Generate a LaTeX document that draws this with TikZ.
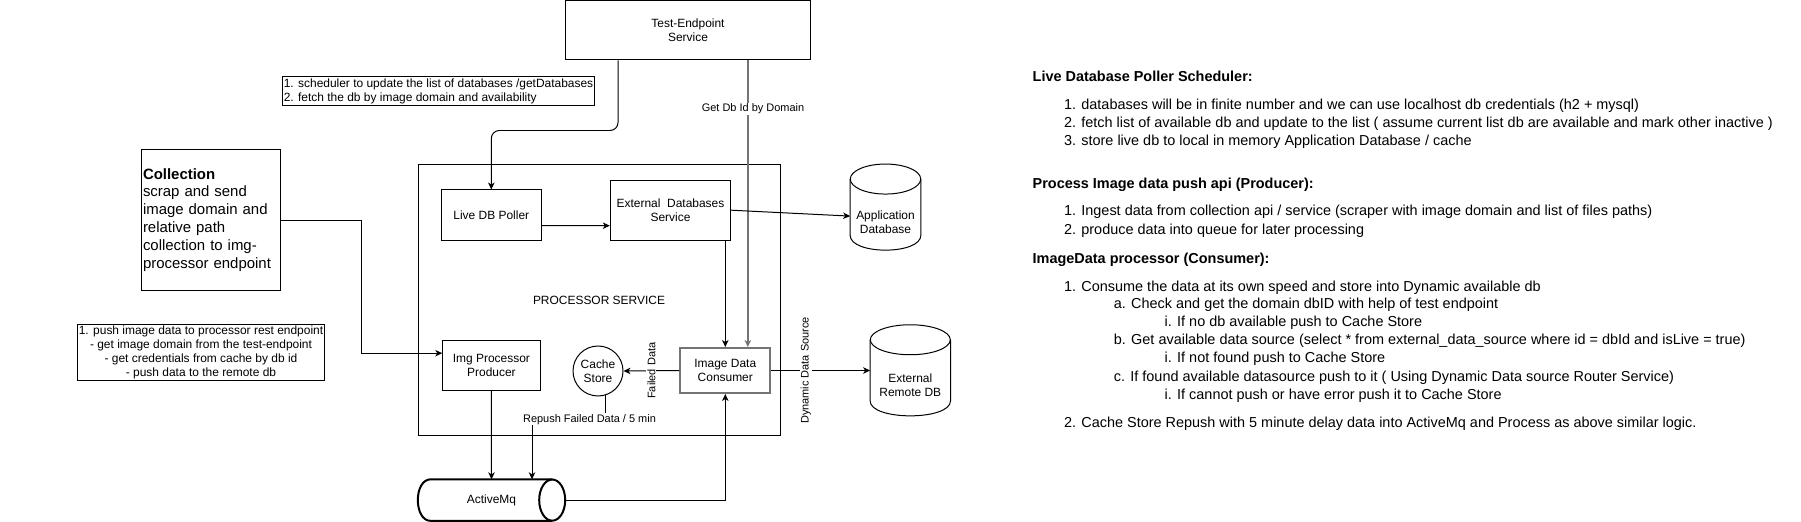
\documentclass[tikz,border=0pt]{standalone}
\usepackage{fontspec}
\setmainfont{Liberation Sans}
\usepackage{tikz}
\usepackage{xcolor}
\usetikzlibrary{arrows.meta,positioning,calc}
\definecolor{ink}{HTML}{000000}
\definecolor{inkgray}{HTML}{747474}
\tikzset{
  box/.style={draw=ink,line width=1pt,align=center,inner sep=2pt,
              font=\fontsize{12}{14}\selectfont},
  notebox/.style={draw=ink,line width=1pt,inner sep=1.5pt,
                  font=\fontsize{12}{14}\selectfont},
  graybox/.style={draw=inkgray,line width=2pt,align=center,inner sep=2pt,
                  font=\fontsize{12}{14}\selectfont},
  dbnode/.style={align=center,inner sep=1pt,font=\fontsize{12}{14}\selectfont},
  dbline/.style={draw=ink,line width=1pt},
  mqline/.style={draw=ink,line width=2pt},
  arr/.style={-{Stealth[length=7pt,width=6.5pt,inset=2pt]},line width=1pt,
              draw=ink},
  grayarr/.style={-{Stealth[length=7pt,width=6.5pt,inset=2pt]},line width=2pt,
                  draw=inkgray},
  edgelabel/.style={fill=white,inner sep=1pt,font=\fontsize{11}{13}\selectfont},
  listhead/.style={anchor=west,inner sep=0pt,
                   font=\fontsize{14.5}{17}\selectfont\bfseries},
  listitem/.style={anchor=west,inner sep=0pt,font=\fontsize{14.5}{17}\selectfont}
}

\begin{document}
\begin{tikzpicture}[x=1bp,y=-1bp]
  \useasboundingbox[fill=white] (0,0) rectangle (1801,522);

  \node[box,minimum width=362bp,minimum height=270bp] (proc) at (599,300)
    {PROCESSOR SERVICE};
  \node[box,minimum width=245bp,minimum height=59.5bp] (testep) at (688,30.2)
    {Test-Endpoint\\Service};
  \node[notebox,minimum width=311bp,minimum height=29bp,align=left] (sched)
    at (438.5,91.5)
    {1. scheduler to update the list of databases /getDatabases\\
     2. fetch the db by image domain and availability};
  \node[box,minimum width=139bp,minimum height=140bp,text width=135bp,align=left,
        font=\fontsize{15}{18}\selectfont] (coll) at (210.5,220)
    {\textbf{Collection}\\scrap and send\\image domain and\\relative path\\
     collection to img-\\processor endpoint};
  \node[notebox,minimum width=246bp,minimum height=55bp,align=center] (push)
    at (201,352.5)
    {1. push image data to processor rest endpoint\\
     - get image domain from the test-endpoint\\
     - get credentials from cache by db id\\
     - push data to the remote db};

  \node[box,minimum width=100.5bp,minimum height=50bp] (poller) at (491.3,215)
    {Live DB Poller};
  \node[box,minimum width=120.4bp,minimum height=59.7bp] (extdb) at (670.5,210.2)
    {External~ Databases\\Service};
  \node[box,minimum width=97.3bp,minimum height=49.7bp] (producer) at (491.4,365.2)
    {Img Processor\\Producer};
  \node[box,circle,minimum size=50bp,inner sep=0pt] (cache) at (598,371)
    {Cache\\Store};
  \node[graybox,minimum width=90bp,minimum height=45bp] (consumer) at (725.3,370.5)
    {Image Data\\Consumer};

  \node[dbnode,minimum width=70.4bp,minimum height=55.7bp] (appdb) at (885.5,222.1)
    {Application\\Database};
  \draw[dbline] ($(appdb.north)+(0,-15)$) ellipse [x radius=35.2,y radius=15];
  \draw[dbline] ($(appdb.north west)+(0,-15)$) -- ($(appdb.south west)+(0,-15)$)
    .. controls +(0,20) and +(0,20) .. ($(appdb.south east)+(0,-15)$)
    -- ($(appdb.north east)+(0,-15)$);

  \node[dbnode,minimum width=80bp,minimum height=60.7bp] (remotedb) at (910.3,385.3)
    {External\\Remote DB};
  \draw[dbline] ($(remotedb.north)+(0,-15)$) ellipse [x radius=40,y radius=15];
  \draw[dbline] ($(remotedb.north west)+(0,-15)$)
    -- ($(remotedb.south west)+(0,-15)$)
    .. controls +(0,20) and +(0,20) .. ($(remotedb.south east)+(0,-15)$)
    -- ($(remotedb.north east)+(0,-15)$);

  \node[dbnode,minimum width=147bp,minimum height=41.2bp] (amq) at (491.5,500.1)
    {ActiveMq};
  \draw[mqline] ($(amq.east)+(-13,0)$) ellipse [x radius=13,y radius=20.6];
  \draw[mqline] ($(amq.north east)+(-13,0)$) -- ($(amq.north west)+(13,0)$)
    .. controls +(-17.3,0) and +(-17.3,0) .. ($(amq.south west)+(13,0)$)
    -- ($(amq.south east)+(-13,0)$);

  \draw[arr,rounded corners=8pt] ([xshift=53bp]testep.south west)
    |- ($(poller.north)+(0,-59)$) -- (poller.north);
  \coordinate (dbid) at ($(consumer.north)+(22.5,0)$);
  \draw[grayarr] (testep.south -| dbid) -- (dbid);
  \node[edgelabel] (dbidlabel) at (753,109) {Get Db Id by Domain};
  \draw[arr] ($(poller.east)+(0,10.7)$) -- ($(extdb.west)+(0,15.5)$);
  \draw[arr] (extdb.east) -- ($(appdb.west)+(0,-6)$);
  \draw[arr] (extdb.south -| consumer.north) -- (consumer.north);
  \coordinate (collin) at ($(producer.west)+(0,-12)$);
  \draw[arr] (coll.east) -| ($(collin)+(-81,0)$) -- (collin);
  \draw[arr] (producer.south) -- (amq.north);
  \draw[arr] (amq.east) -| (consumer.south);
  \draw[arr] (consumer.west) -- (cache.east)
    node[edgelabel,midway,rotate=90] (failed) {Failed Data};
  \draw[arr] (consumer.east) -- (consumer.east -| remotedb.west)
    node[edgelabel,pos=0.35,rotate=90] (dynsrc) {Dynamic Data Source};
  \coordinate (rp) at (589.5,419.3);
  \coordinate (rq) at ($(amq.north)+(40.5,0)$);
  \draw[arr] (cache.-72.5) |- (rp) -| (rq);
  \node[edgelabel] (repush) at (rp) {Repush Failed Data / 5 min};

  \node[listhead] (hpoll) at (1032.5,76.7) {Live Database Poller Scheduler:};
  \node[listitem] (hpoll1) at (1063.8,105.7)
    {1. databases will be in finite number and we can use localhost db credentials (h2 + mysql)};
  \node[listitem] (hpoll2) at (1063.8,124)
    {2. fetch list of available db and update to the list ( assume current list db are available and mark other inactive )};
  \node[listitem] (hpoll3) at (1063.8,141.7)
    {3. store live db to local in memory Application Database / cache};
  \node[listhead] (hprod) at (1032.5,184.3) {Process Image data push api (Producer):};
  \node[listitem] (hprod1) at (1063.8,211.7)
    {1. Ingest data from collection api / service (scraper with image domain and list of files paths)};
  \node[listitem] (hprod2) at (1063.8,230.7)
    {2. produce data into queue for later processing};
  \node[listhead] (hcons) at (1032.5,260) {ImageData processor (Consumer):};
  \node[listitem] (hcons1) at (1063.8,287.7)
    {1. Consume the data at its own speed and store into Dynamic available db};
  \node[listitem] (hcons1a) at (1113.6,305)
    {a. Check and get the domain dbID with help of test endpoint};
  \node[listitem] (hcons1ai) at (1164.4,322.7)
    {i. If no db available push to Cache Store};
  \node[listitem] (hcons1b) at (1113.6,341)
    {b. Get available data source (select * from external\_data\_source where id = dbId and isLive = true)};
  \node[listitem] (hcons1bi) at (1164.4,359)
    {i. If not found push to Cache Store};
  \node[listitem] (hcons1c) at (1113.6,377.3)
    {c. If found available datasource push to it ( Using Dynamic Data source Router Service)};
  \node[listitem] (hcons1ci) at (1164.4,395.3)
    {i. If cannot push or have error push it to Cache Store};
  \node[listitem] (hcons2) at (1063.8,423.3)
    {2. Cache Store Repush with 5 minute delay data into ActiveMq and Process as above similar logic.};
\end{tikzpicture}
\end{document}
